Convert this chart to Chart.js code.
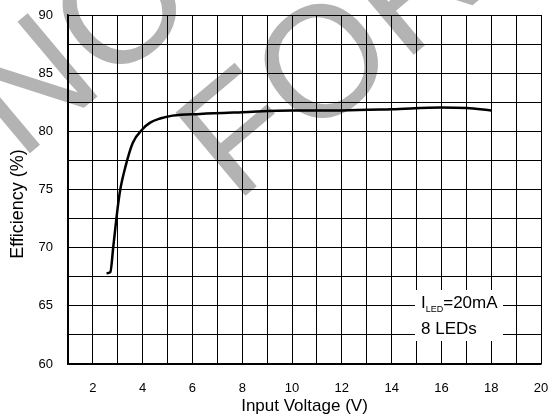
<!DOCTYPE html>
<html>
<head>
<meta charset="utf-8">
<script src="https://cdn.jsdelivr.net/npm/chart.js@4/dist/chart.umd.min.js"></script>
<style>
  body { margin: 0; background: #fff; }
  #wrap { width: 551px; height: 419px; }
</style>
</head>
<body>
<div id="wrap"><canvas id="eff" width="551" height="419"></canvas></div>
<script>
// efficiency vs input voltage, ILED = 20mA, 8 LEDs
const inputVoltage = [2.55, 2.7, 2.82, 3.0, 3.1, 3.3, 3.6, 4.0, 4.3, 4.7, 5.2, 6.3, 8, 10, 12, 14, 16, 17, 18];
const efficiency   = [67.8, 67.9, 70.1, 73.5, 75.0, 76.9, 79.0, 80.2, 80.75, 81.1, 81.35, 81.5, 81.65, 81.8, 81.8, 81.9, 82.05, 82.0, 81.8];

const xTickLabels = [2, 4, 6, 8, 10, 12, 14, 16, 18, 20];
const yTickLabels = [60, 65, 70, 75, 80, 85, 90];
const yTitle = 'Efficiency (%)';
const noteLines = ['=20mA', '8 LEDs'];

const FONT = '"Liberation Sans", Arial, Helvetica, sans-serif';

// big grey stamp behind the grid
const stampPlugin = {
  id: 'stamp',
  beforeDraw(chart) {
    const ctx = chart.ctx;
    const size = 158;
    const words = [
      {text: 'NOT', cx: 118, cy: 5},
      {text: 'FOR', cx: 320, cy: 59}
    ];
    ctx.save();
    ctx.fillStyle = '#fff';
    ctx.fillRect(0, 0, chart.width, chart.height);
    ctx.fillStyle = '#b3b3b3';
    ctx.font = size + 'px ' + FONT;
    ctx.textBaseline = 'alphabetic';
    ctx.textAlign = 'left';
    for (const w of words) {
      ctx.save();
      ctx.translate(w.cx, w.cy);
      ctx.rotate(-40 * Math.PI / 180);
      const lead = ctx.measureText(w.text[0]).width + ctx.measureText(w.text[1]).width / 2;
      ctx.fillText(w.text, -lead, size * 0.36);
      ctx.restore();
    }
    ctx.restore();
  }
};

// white note box with the test conditions, plus the y axis title
const notePlugin = {
  id: 'note',
  afterDatasetsDraw(chart) {
    const ctx = chart.ctx;
    ctx.save();
    ctx.fillStyle = '#fff';
    ctx.fillRect(415, 290, 88, 51);
    ctx.fillStyle = '#000';
    ctx.textBaseline = 'alphabetic';
    ctx.textAlign = 'left';
    ctx.font = '17px ' + FONT;
    ctx.fillText('I', 421, 308);
    let x = 421 + ctx.measureText('I').width;
    ctx.font = '9px ' + FONT;
    ctx.fillText('LED', x, 312);
    x += ctx.measureText('LED').width;
    ctx.font = '17px ' + FONT;
    ctx.fillText(noteLines[0], x, 308);
    ctx.fillText(noteLines[1], 421, 334);

    ctx.translate(18, 204);
    ctx.rotate(-Math.PI / 2);
    ctx.textAlign = 'center';
    ctx.textBaseline = 'middle';
    ctx.font = '18px ' + FONT;
    ctx.fillText(yTitle, 0, 0);
    ctx.restore();
  }
};

new Chart(document.getElementById('eff'), {
  type: 'line',
  data: {
    labels: inputVoltage,
    datasets: [{
      data: inputVoltage.map((v, i) => ({x: v, y: efficiency[i]})),
      borderColor: '#000',
      borderWidth: 2.5,
      pointRadius: 0,
      fill: false,
      cubicInterpolationMode: 'monotone'
    }]
  },
  options: {
    responsive: false,
    animation: false,
    layout: {padding: {top: 15, right: 10, left: 0, bottom: 0}},
    plugins: {legend: {display: false}, tooltip: {enabled: false}},
    scales: {
      x: {
        type: 'linear',
        min: 1, max: 20,
        afterFit: s => { s.height = 55; s.paddingLeft = 0; s.paddingRight = 0; },
        grid: {color: '#000', lineWidth: 1, drawTicks: false},
        border: {color: '#000', width: 1.5},
        ticks: {
          stepSize: 1, autoSkip: false, maxRotation: 0, padding: 17,
          color: '#000', font: {family: FONT, size: 13},
          callback: v => xTickLabels.includes(v) ? String(v) : ''
        },
        title: {display: true, text: 'Input Voltage (V)', color: '#000',
                font: {family: FONT, size: 17}, padding: {top: 0, bottom: 2}}
      },
      y: {
        min: 60, max: 90,
        afterFit: s => { s.width = 68; s.paddingTop = 0; s.paddingBottom = 0; },
        grid: {color: '#000', lineWidth: 1, drawTicks: false},
        border: {color: '#000', width: 1.5},
        ticks: {
          stepSize: 2.5, autoSkip: false, padding: 15,
          color: '#000', font: {family: FONT, size: 13},
          callback: v => yTickLabels.includes(v) ? String(v) : ''
        },
        title: {display: false}
      }
    }
  },
  plugins: [stampPlugin, notePlugin]
});
</script>
</body>
</html>
